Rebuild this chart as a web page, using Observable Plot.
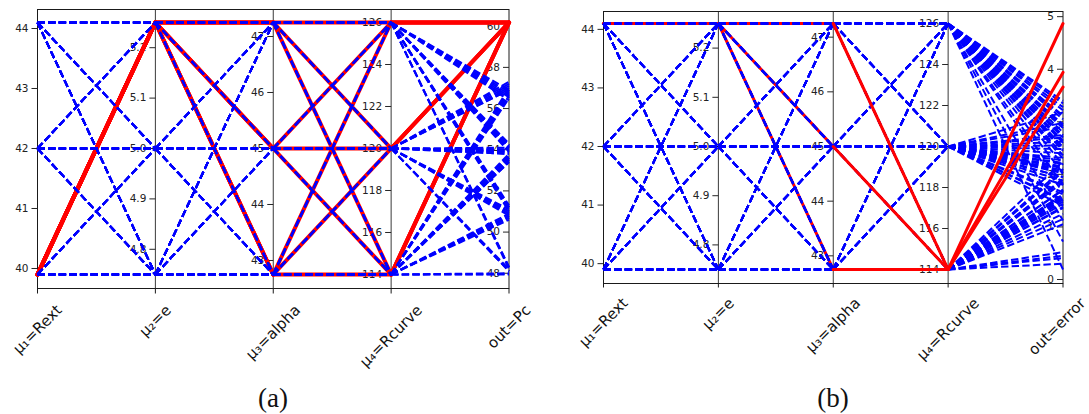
<!DOCTYPE html>
<html><head><meta charset="utf-8">
<script src="https://cdn.jsdelivr.net/npm/d3@7"></script>
<script src="https://cdn.jsdelivr.net/npm/@observablehq/plot@0.6"></script>
<style>
html,body{margin:0;padding:0;background:#fff;overflow:hidden;}
#fig{position:relative;width:1089px;height:414px;overflow:hidden;}
.panel{position:absolute;top:0;}
.cap{position:absolute;width:100px;text-align:center;font-family:"Liberation Serif","DejaVu Serif",serif;font-size:27px;line-height:30px;color:#111;}
</style></head><body><div id="fig"></div>
<script>
// ---- factor levels (full factorial, Rext outermost ... Rcurve innermost) ----
const rextLevels = [39.9, 42, 44.1];
const eLevels = [4.75, 5.0, 5.25];
const alphaLevels = [42.75, 45, 47.25];
const rcurveLevels = [114, 120, 126];

// ---- outputs, one per run, in the same order ----
const pcValues = [
  53.6, 54.0, 53.9, 53.5, 53.9, 54.2, 53.4, 53.8, 54.1,
  56.9, 57.2, 56.8, 56.7, 57.0, 56.6, 56.5, 56.9, 56.4,
  60.18, 60.18, 60.18, 60.18, 60.18, 60.18, 60.18, 60.18, 60.18,
  50.8, 51.1, 51.3, 50.7, 51.0, 51.2, 50.6, 50.9, 51.1,
  53.7, 54.0, 54.2, 53.6, 53.9, 54.1, 53.4, 53.8, 54.0,
  57.0, 57.3, 56.9, 56.8, 57.1, 56.7, 56.6, 56.9, 56.5,
  47.94, 48.1, 48.3, 48.0, 48.2, 48.3, 47.96, 48.1, 48.2,
  50.9, 51.0, 51.2, 50.8, 50.9, 51.1, 50.7, 50.8, 51.0,
  53.8, 54.1, 54.3, 53.7, 54.0, 54.2, 53.5, 53.9, 54.1
];
const errorValues = [
  1.62, 2.31, 2.95, 1.48, 2.12, 3.10, 0.41, 1.95, 2.74,
  1.85, 2.48, 3.22, 1.71, 2.27, 2.88, 1.55, 2.05, 1.12,
  2.10, 2.62, 3.35, 0.52, 2.40, 3.05, 1.90, 2.20, 2.60,
  1.38, 1.80, 2.45, 1.25, 1.66, 2.30, 0.30, 1.52, 0.19,
  1.70, 2.15, 2.70, 1.58, 2.02, 2.52, 1.44, 1.88, 2.36,
  2.25, 2.90, 3.28, 2.05, 2.70, 3.12, 1.92, 2.55, 2.92,
  1.15, 1.62, 2.18, 1.05, 1.50, 2.02, 0.45, 1.40, 0.72,
  1.60, 2.22, 1.80, 1.52, 2.08, 2.64, 1.36, 1.95, 2.48,
  3.66, 3.18, 3.40, 3.94, 2.98, 2.80, 4.87, 2.75, 1.65
];
// highlighted runs: best Pc in (a), largest error in (b)
const pcHighlightMin = 60;
const errorHighlightMin = 3.5;

// ---- axis labels and tick values ----
const inputLabels = ["μ₁=Rext", "μ₂=e", "μ₃=alpha", "μ₄=Rcurve"];
const rextTicks = [40, 41, 42, 43, 44];
const eTicks = [4.8, 4.9, 5.0, 5.1, 5.2];
const alphaTicks = [43, 44, 45, 46, 47];
const rcurveTicks = [114, 116, 118, 120, 122, 124, 126];
const pcTicks = [48, 50, 52, 54, 56, 58, 60];
const errorTicks = [0, 1, 2, 3, 4, 5];
const captions = ["(a)", "(b)"];

// build runs
const runs = [];
for (const r of rextLevels) for (const e of eLevels) for (const a of alphaLevels) for (const c of rcurveLevels)
  runs.push([r, e, a, c]);

const LABEL_SIZE = 15;
const measure = (() => {
  const ctx = document.createElement("canvas").getContext("2d");
  return (s, size) => { ctx.font = `${size}px "DejaVu Sans"`; return ctx.measureText(s).width; };
})();

const tickLeft = {draw(ctx) { ctx.moveTo(-6, 0); ctx.lineTo(0, 0); }};
const tickDown = (len) => ({draw(ctx) { ctx.moveTo(0, 0); ctx.lineTo(0, len); }});

function panel(cfg) {
  const cols = [0, 1, 2, 3].map(k => runs.map(r => r[k])).concat([cfg.out]);
  const ext = cols.map(c => d3.extent(c));
  const norm = (i, v) => (v - ext[i][0]) / (ext[i][1] - ext[i][0]);
  // one segment per pair of neighbouring axes, per run
  const segs = runs.flatMap((r, ri) => [0, 1, 2, 3].map(i => ({
    row: ri, seg: i, x1: i, x2: i + 1,
    y1: norm(i, cols[i][ri]), y2: norm(i + 1, cols[i + 1][ri]),
    hi: cfg.highlight(cfg.out[ri])
  })));
  const blue = segs.filter(d => !d.hi);
  const red = segs.filter(d => d.hi);
  const redUnder = red.filter(d => d.seg < cfg.split);
  const redOver = red.filter(d => d.seg >= cfg.split);
  const tickSets = [rextTicks, eTicks, alphaTicks, rcurveTicks, cfg.outTicks];
  const fmts = [String, v => v.toFixed(1), String, String, String];
  const tickData = tickSets.flatMap((ts, i) => ts.map(t => ({axis: i, y: norm(i, t), label: fmts[i](t)})));
  const labels = inputLabels.concat([cfg.outLabel]);
  const H = LABEL_SIZE * 1.17;
  const labelMarks = labels.map((lab, i) => {
    const half = (measure(lab, LABEL_SIZE) + H) / (2 * Math.SQRT2);
    return Plot.text([lab], {
      x: [i], text: d => d, frameAnchor: "bottom", rotate: -45, textAnchor: "middle", lineAnchor: "middle",
      fontSize: LABEL_SIZE, fill: "#111", dy: cfg.labelGap + half, dx: i === 4 ? cfg.lastDx : 0
    });
  });
  const linkOpts = {x1: "x1", y1: "y1", x2: "x2", y2: "y2"};
  const marks = [
    Plot.ruleX([1, 2, 3], {stroke: "#3a3a3a", strokeWidth: 1}),
    Plot.frame({stroke: "#1a1a1a", strokeWidth: 1}),
    Plot.dot(tickData, {x: "axis", y: "y", symbol: tickLeft, fill: "none", stroke: "#262626", strokeWidth: 1}),
    Plot.dot([0, 1, 2, 3, 4], {x: d => d, frameAnchor: "bottom", symbol: tickDown(cfg.tickLen), fill: "none", stroke: "#1a1a1a", strokeWidth: 1}),
    Plot.text(tickData, {x: "axis", y: "y", text: "label", textAnchor: "end", dx: -9, fontSize: 10.5, fill: "#222"}),
    Plot.link(redUnder, {...linkOpts, stroke: "#ff0000", strokeWidth: cfg.redWidth, strokeLinecap: "round"}),
    Plot.link(blue, {...linkOpts, stroke: "#0000ff", strokeWidth: 2, strokeDasharray: "7.4,3.2"}),
    Plot.link(redOver, {...linkOpts, stroke: "#ff0000", strokeWidth: cfg.redWidth, strokeLinecap: "round"}),
    ...labelMarks
  ];
  const svg = Plot.plot({
    width: cfg.width, height: cfg.height,
    marginLeft: cfg.ml, marginRight: cfg.mr, marginTop: cfg.mt, marginBottom: cfg.mb,
    x: {domain: [0, 4], axis: null},
    y: {domain: cfg.yDomain, axis: null},
    style: {fontFamily: "DejaVu Sans", background: "transparent", overflow: "visible"},
    marks
  });
  const wrap = document.createElement("div");
  wrap.className = "panel";
  wrap.style.left = cfg.left + "px";
  wrap.appendChild(svg);
  return wrap;
}

const fig = document.getElementById("fig");
const pa = panel({
  out: pcValues, outTicks: pcTicks, outLabel: "out=Pc", highlight: v => v >= pcHighlightMin,
  split: 4, redWidth: 4, left: 0, width: 545, height: 376, ml: 37, mr: 36.5, mt: 9, mb: 88,
  yDomain: [-0.0556, 1.0516], tickLen: 5, labelGap: 13, lastDx: 0
});
const pb = panel({
  out: errorValues, outTicks: errorTicks, outLabel: "out=error", highlight: v => v >= errorHighlightMin,
  split: 2, redWidth: 3, left: 545, width: 544, height: 376, ml: 58, mr: 26.5, mt: 11, mb: 93,
  yDomain: [-0.0569, 1.0488], tickLen: 4, labelGap: 11, lastDx: -6
});
fig.appendChild(pa); fig.appendChild(pb);
[[captions[0], 273], [captions[1], 833]].forEach(([t, cx]) => {
  const d = document.createElement("div");
  d.className = "cap"; d.textContent = t;
  d.style.left = (cx - 50) + "px"; d.style.top = "383px";
  fig.appendChild(d);
});
</script></body></html>
